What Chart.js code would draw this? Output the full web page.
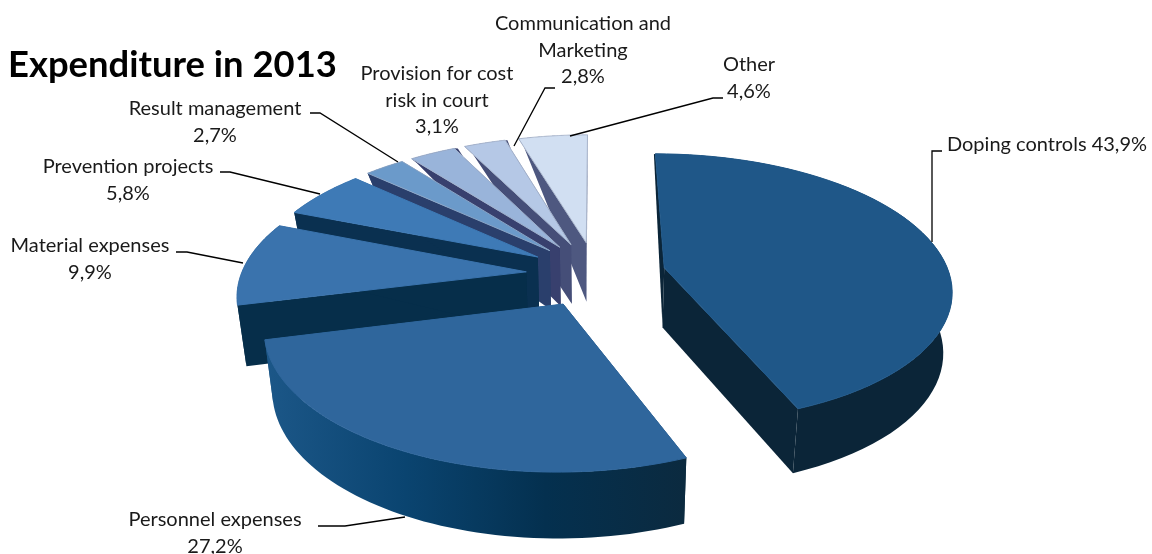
<!DOCTYPE html>
<html lang="en">
<head>
    <meta charset="UTF-8">
    <title>Expenditure in 2013</title>
    <script src="https://cdn.jsdelivr.net/npm/chart.js"></script>
    <style>
        html, body { margin: 0; background: #fff; }
        canvas { display: block; }
    </style>
</head>
<body>
<canvas id="myChart" width="1152" height="554"></canvas>
<script>
    const categories = ['Doping controls', 'Personnel expenses', 'Material expenses', 'Prevention projects',
        'Result management', 'Provision for cost risk in court', 'Communication and Marketing', 'Other'];
    const shares = [43.9, 27.2, 9.9, 5.8, 2.7, 3.1, 2.8, 4.6];

    const topColors = ['#1f5788', '#2f669c', '#3a73ad', '#3e7ab6', '#6b9aca', '#99b4da', '#b5c8e6', '#d1dff2'];
    const edgeColors = ['#1f5788', '#2f669c', '#3a73ad', '#3e7ab6', '#8aa5c6', '#9fb0cb', '#a4b2cb', '#a9b5cb'];
    const wallColors = [
        ['#0b2538', '#0b2538'],
        ['#1c5788', '#0a4470', '#04304f', '#0b2a3f'],
        ['#062e4a', '#062e4a'],
        ['#0a3050', '#0a3050'],
        ['#2a3f6c', '#2a3f6c'],
        ['#38406e', '#38406e'],
        ['#454e78', '#454e78'],
        ['#4e5880', '#4e5880']
    ];

    // text, anchor and leader line for each data label
    const labelLines = [
        {text: ['Doping controls 43,9%'], x: 1047, y: 151, leader: [[942, 151], [932, 151], [932, 242]]},
        {text: ['Personnel expenses', '27,2%'], x: 215, y: 526, leader: [[318, 526], [345, 526], [405, 517]]},
        {text: ['Material expenses', '9,9%'], x: 90, y: 252, leader: [[176, 252], [187, 252], [243, 263]]},
        {text: ['Prevention projects', '5,8%'], x: 128, y: 173, leader: [[220, 172], [230, 172], [320, 194]]},
        {text: ['Result management', '2,7%'], x: 215, y: 115, leader: [[310, 113], [320, 113], [398, 162]]},
        {text: ['Provision for cost', 'risk in court', '3,1%'], x: 437, y: 80, leader: []},
        {text: ['Communication and', 'Marketing', '2,8%'], x: 583, y: 30, leader: [[555, 88], [545, 88], [514, 146]]},
        {text: ['Other', '4,6%'], x: 749, y: 71, leader: [[723, 98], [713, 98], [570, 136]]}
    ];

    const pieRadius = 285;      // radius of the pie on its own plane
    const squash = 0.466;       // tilt of the plane
    const perspective = 0.15;
    const thickness = 60;
    const backToFront = [7, 6, 5, 4, 3, 2, 0, 1];

    // tilted pie: the arc elements give the angles, this projects them onto the page
    const tiltedPie = {
        id: 'tiltedPie',
        beforeDatasetDraw(chart, args) {
            const ctx = chart.ctx;
            const arcs = args.meta.data;
            const cx = arcs[0].x;
            const cy = arcs[0].y;

            const top = (X, Y) => {
                const d = 1 + perspective * Y / pieRadius;
                return [cx + X / d, cy - squash * Y / d];
            };
            const bottom = (X, Y) => {
                const d = 1 + perspective * Y / pieRadius;
                const p = top(X, Y);
                const taper = Math.max(0, Math.min(1, (300 - Y) / 230));
                return [cx + (p[0] - cx) * 0.975, p[1] + thickness / Math.sqrt(d) * taper];
            };
            const fillPath = (pts, fill, stroke) => {
                ctx.beginPath();
                pts.forEach((p, i) => i ? ctx.lineTo(p[0], p[1]) : ctx.moveTo(p[0], p[1]));
                ctx.closePath();
                ctx.fillStyle = fill;
                ctx.fill();
                if (stroke) {
                    ctx.strokeStyle = stroke;
                    ctx.lineWidth = 1;
                    ctx.stroke();
                }
            };

            backToFront.forEach(i => {
                const arc = arcs[i];
                const mid = (arc.startAngle + arc.endAngle) / 2;
                const ox = arc.options.offset * Math.cos(mid);
                const oy = -arc.options.offset * Math.sin(mid);

                const rim = [];
                for (let s = 0; s <= 60; s++) {
                    const a = arc.startAngle + (arc.endAngle - arc.startAngle) * s / 60;
                    rim.push([ox + pieRadius * Math.cos(a), oy - pieRadius * Math.sin(a)]);
                }
                const topRim = rim.map(p => top(p[0], p[1]));
                const lowRim = rim.map(p => bottom(p[0], p[1]));
                const apexTop = top(ox, oy);
                const apexLow = bottom(ox, oy);

                const stops = wallColors[i];
                fillPath([apexTop, topRim[0], lowRim[0], apexLow], stops[stops.length - 1]);
                fillPath([apexTop, topRim[60], lowRim[60], apexLow], stops[0]);

                const xs = topRim.map(p => p[0]);
                const wall = ctx.createLinearGradient(Math.min(...xs), 0, Math.max(...xs), 0);
                stops.forEach((c, n) => wall.addColorStop(n / (stops.length - 1), c));
                fillPath(topRim.concat(lowRim.slice().reverse()), wall);

                fillPath([apexTop].concat(topRim), arc.options.backgroundColor, arc.options.borderColor);
            });
            return false;
        },
        afterDraw(chart) {
            const ctx = chart.ctx;
            ctx.save();
            ctx.fillStyle = '#000';
            ctx.textAlign = 'left';
            ctx.font = 'bold 36.4px Lato';
            ctx.fillText('Expenditure in 2013', 8, 77);

            ctx.fillStyle = '#1a1a1a';
            ctx.textAlign = 'center';
            ctx.font = '20px Lato';
            labelLines.forEach(label => {
                label.text.forEach((line, n) => ctx.fillText(line, label.x, label.y + n * 26.5));
                ctx.beginPath();
                label.leader.forEach((p, n) => n ? ctx.lineTo(p[0], p[1]) : ctx.moveTo(p[0], p[1]));
                ctx.strokeStyle = '#000';
                ctx.lineWidth = 1.3;
                ctx.stroke();
            });
            ctx.restore();
        }
    };

    new Chart(document.getElementById('myChart'), {
        type: 'pie',
        data: {
            labels: categories,
            datasets: [{
                data: shares,
                backgroundColor: topColors,
                borderColor: edgeColors,
                offset: 70
            }]
        },
        options: {
            responsive: false,
            animation: false,
            rotation: 0,
            layout: {padding: {left: 40, bottom: 6}},
            plugins: {legend: {display: false}, tooltip: {enabled: false}}
        },
        plugins: [tiltedPie]
    });
</script>
</body>
</html>
